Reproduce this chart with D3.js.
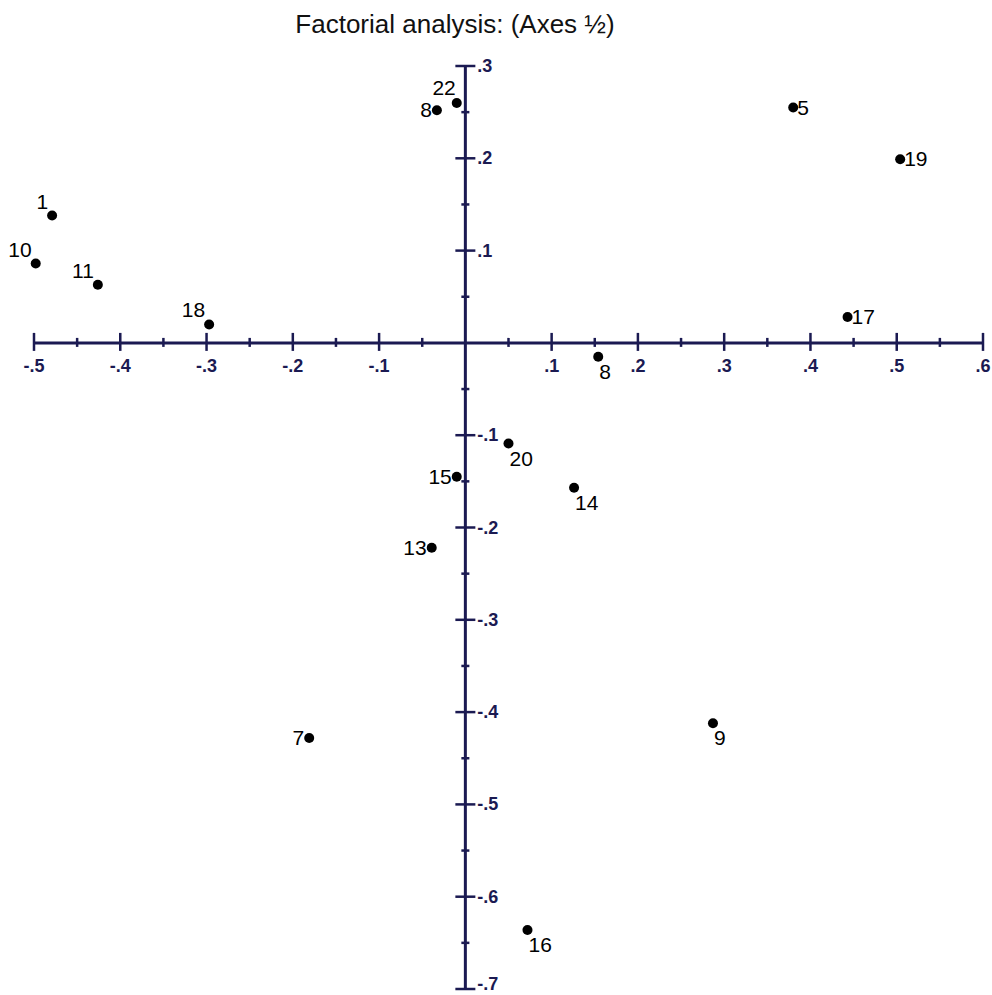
<!DOCTYPE html>
<html>
<head>
<meta charset="utf-8">
<script src="https://cdn.jsdelivr.net/npm/d3@7"></script>
<style>
  body { margin: 0; background: #fff; }
  svg { display: block; font-family: "Liberation Sans", Arial, sans-serif; }
</style>
</head>
<body>
<svg width="992" height="995"></svg>
<script>
// individuals on factorial plane (axis 1, axis 2)
var labels = ["1", "10", "11", "18", "8", "22", "5", "19", "17", "8", "20", "15", "14", "13", "7", "9", "16"];
var axis1 = [-0.479, -0.498, -0.426, -0.297, -0.033, -0.010, 0.380, 0.504, 0.443, 0.154, 0.050, -0.010, 0.126, -0.039, -0.181, 0.287, 0.072];
var axis2 = [0.138, 0.086, 0.063, 0.020, 0.252, 0.260, 0.255, 0.199, 0.028, -0.015, -0.109, -0.145, -0.157, -0.222, -0.428, -0.412, -0.636];
// where the label sits relative to its dot
var placement = ["aboveleft", "aboveleft", "aboveleft", "aboveleft", "left", "above", "right", "right", "right", "below", "below", "left", "below", "left", "left", "below", "below"];

var xTicks = [-0.5, -0.4, -0.3, -0.2, -0.1, 0.1, 0.2, 0.3, 0.4, 0.5, 0.6];
var yTicks = [0.3, 0.2, 0.1, -0.1, -0.2, -0.3, -0.4, -0.5, -0.6, -0.7];

var svg = d3.select("svg"),
    width = +svg.attr("width"),
    height = +svg.attr("height");

var axisColor = "#1b1a52";

var x = d3.scaleLinear().domain([-0.5, 0.6]).range([34, 983]);
var y = d3.scaleLinear().domain([-0.7, 0.3]).range([989, 66]);

// ".3", "-.1" style labels with plain hyphen
var fmt = function(v) { return d3.format(".1f")(v).replace("\u2212", "-").replace("0.", "."); };

svg.append("text")
    .attr("x", 455)
    .attr("y", 33)
    .attr("text-anchor", "middle")
    .style("font-size", "26px")
    .style("fill", "#111")
    .text("Factorial analysis: (Axes \u00bd)");

var minorX = d3.range(-0.45, 0.6, 0.1);
var minorY = d3.range(-0.65, 0.3, 0.1);

var g = svg.append("g").attr("class", "axes");

// x axis
g.append("line")
    .attr("x1", x(-0.5)).attr("x2", x(0.6))
    .attr("y1", y(0)).attr("y2", y(0))
    .attr("stroke", axisColor).attr("stroke-width", 3);

g.selectAll(".xmajor")
    .data(xTicks)
    .enter().append("line")
    .attr("x1", function(d) { return x(d); })
    .attr("x2", function(d) { return x(d); })
    .attr("y1", y(0) - 10)
    .attr("y2", y(0) + 8)
    .attr("stroke", axisColor).attr("stroke-width", 2.5);

g.selectAll(".xminor")
    .data(minorX)
    .enter().append("line")
    .attr("x1", function(d) { return x(d); })
    .attr("x2", function(d) { return x(d); })
    .attr("y1", y(0) - 5)
    .attr("y2", y(0) + 4)
    .attr("stroke", axisColor).attr("stroke-width", 2.5);

g.selectAll(".xlab")
    .data(xTicks)
    .enter().append("text")
    .attr("x", function(d) { return x(d); })
    .attr("y", y(0) + 29)
    .attr("text-anchor", "middle")
    .style("font-size", "18px")
    .style("font-weight", "bold")
    .style("fill", axisColor)
    .text(fmt);

// y axis
g.append("line")
    .attr("x1", x(0)).attr("x2", x(0))
    .attr("y1", y(0.3)).attr("y2", y(-0.7))
    .attr("stroke", axisColor).attr("stroke-width", 3);

g.selectAll(".ymajor")
    .data(yTicks)
    .enter().append("line")
    .attr("x1", x(0) - 10)
    .attr("x2", x(0) + 10)
    .attr("y1", function(d) { return y(d); })
    .attr("y2", function(d) { return y(d); })
    .attr("stroke", axisColor).attr("stroke-width", 2.5);

g.selectAll(".yminor")
    .data(minorY)
    .enter().append("line")
    .attr("x1", x(0) - 4)
    .attr("x2", x(0) + 4)
    .attr("y1", function(d) { return y(d); })
    .attr("y2", function(d) { return y(d); })
    .attr("stroke", axisColor).attr("stroke-width", 2.5);

g.selectAll(".ylab")
    .data(yTicks)
    .enter().append("text")
    .attr("x", x(0) + 12)
    .attr("y", function(d) { return Math.min(y(d) + 6, height - 5); })
    .style("font-size", "18px")
    .style("font-weight", "bold")
    .style("fill", axisColor)
    .text(fmt);

// points
var points = labels.map(function(l, i) {
    return { label: l, a1: axis1[i], a2: axis2[i], pos: placement[i] };
});

var offsets = {
    aboveleft: { dx: -4, dy: -7, anchor: "end" },
    above: { dx: -1, dy: -8, anchor: "end" },
    left: { dx: -5, dy: 7, anchor: "end" },
    right: { dx: 4, dy: 7, anchor: "start" },
    below: { dx: 1, dy: 22, anchor: "start" }
};

var node = svg.append("g").attr("class", "points")
    .selectAll("g")
    .data(points)
    .enter().append("g")
    .attr("transform", function(d) { return "translate(" + x(d.a1) + "," + y(d.a2) + ")"; });

node.append("circle")
    .attr("r", 5)
    .attr("fill", "#000");

node.append("text")
    .attr("x", function(d) { return offsets[d.pos].dx; })
    .attr("y", function(d) { return offsets[d.pos].dy; })
    .attr("text-anchor", function(d) { return offsets[d.pos].anchor; })
    .style("font-size", "21px")
    .style("fill", "#000")
    .text(function(d) { return d.label; });
</script>
</body>
</html>
